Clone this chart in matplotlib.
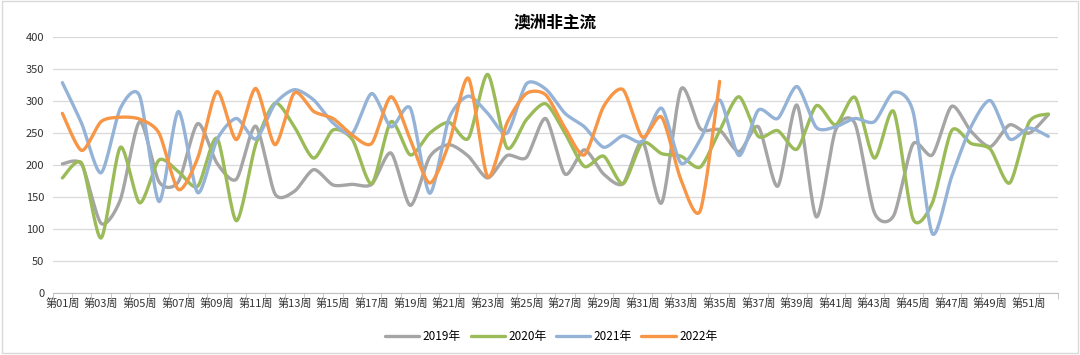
import numpy as np
import matplotlib.pyplot as plt
from matplotlib.patches import Rectangle

plt.rcParams['font.family'] = ['Noto Sans CJK SC', 'DejaVu Sans']

weeks = ['第%02d周' % i for i in range(1, 53)]

y2019 = [202, 201, 109, 146, 268, 174, 174, 265, 203, 178, 261, 155, 159, 193, 169, 170,
         170, 219, 137, 213, 232, 214, 180, 215, 212, 273, 186, 224, 186, 171, 237, 141,
         319, 257, 255, 221, 260, 167, 294, 119, 255, 265, 126, 121, 233, 216, 292, 253,
         229, 263, 250, 279]
y2020 = [180, 203, 86, 228, 141, 208, 190, 167, 242, 113, 232, 297, 260, 211, 255, 240,
         171, 268, 216, 250, 267, 242, 342, 227, 271, 296, 250, 198, 214, 171, 235, 218,
         214, 197, 254, 307, 245, 254, 225, 293, 263, 306, 211, 284, 116, 141, 254, 234,
         225, 172, 267, 280]
y2021 = [329, 265, 188, 289, 308, 143, 284, 157, 240, 273, 241, 296, 318, 302, 266, 250,
         312, 260, 289, 156, 273, 308, 281, 250, 327, 319, 281, 260, 228, 246, 237, 289,
         203, 240, 302, 215, 286, 273, 323, 259, 260, 273, 268, 314, 284, 93, 182, 260,
         301, 241, 258, 245]
y2022 = [281, 223, 268, 275, 272, 250, 162, 211, 315, 240, 320, 232, 313, 284, 273, 247,
         234, 307, 240, 172, 234, 336, 182, 266, 312, 310, 258, 216, 292, 318, 244, 275,
         177, 129, 331]

series = [('2019年', y2019, '#A5A5A5'), ('2020年', y2020, '#9BBB59'),
          ('2021年', y2021, '#95B3D7'), ('2022年', y2022, '#F79646')]


def smooth(x, y, s=0.38, n=20):
    # cardinal spline through the points (smoothed line look)
    x = np.asarray(x, float)
    y = np.asarray(y, float)
    px = np.concatenate([[x[0]], x, [x[-1]]])
    py = np.concatenate([[y[0]], y, [y[-1]]])
    t = np.linspace(0, 1, n, endpoint=False)
    h00 = 2 * t ** 3 - 3 * t ** 2 + 1
    h10 = t ** 3 - 2 * t ** 2 + t
    h01 = -2 * t ** 3 + 3 * t ** 2
    h11 = t ** 3 - t ** 2
    xs, ys = [], []
    for i in range(1, len(px) - 2):
        for p, out in ((px, xs), (py, ys)):
            m1 = s * (p[i + 1] - p[i - 1])
            m2 = s * (p[i + 2] - p[i])
            out.extend(h00 * p[i] + h10 * m1 + h01 * p[i + 1] + h11 * m2)
    xs.append(x[-1])
    ys.append(y[-1])
    return np.array(xs), np.array(ys)


fig = plt.figure(figsize=(10.8, 3.55), dpi=100)
ax = fig.add_axes([0.0488, 0.1746, 0.9308, 0.7204])

for name, vals, col in series:
    xs, ys = smooth(np.arange(len(vals)), vals)
    ax.plot(xs, ys, color=col, lw=2.4, label=name, solid_capstyle='round')

ax.set_xlim(-0.5, 51.5)
ax.set_ylim(0, 400)
ax.set_yticks(np.arange(0, 401, 50))
ax.set_xticks(np.arange(0, 52, 2))
ax.set_xticklabels(weeks[::2])
ax.set_xticks(np.arange(-0.5, 52, 1), minor=True)
ax.tick_params(axis='x', which='major', length=0, labelsize=8, pad=4, colors='#333333')
ax.tick_params(axis='x', which='minor', length=4, color='#BFBFBF')
ax.tick_params(axis='y', length=0, labelsize=8, colors='#333333', pad=6)
ax.grid(axis='y', color='#D9D9D9', lw=0.9)
ax.set_axisbelow(True)
for s in ['top', 'right', 'left']:
    ax.spines[s].set_visible(False)
ax.spines['bottom'].set_color('#BFBFBF')

ax.set_title('澳洲非主流', fontsize=12, fontweight='bold', pad=7)
ax.legend(loc='upper center', bbox_to_anchor=(0.496, -0.105), ncol=4, frameon=False,
          fontsize=8.5, handlelength=2.9, columnspacing=0.8, handletextpad=0.3)

fig.patches.append(Rectangle((0.002, 0.006), 0.996, 0.99, transform=fig.transFigure,
                             fill=False, edgecolor='#D9D9D9', lw=1))
fig.savefig('out.png')
